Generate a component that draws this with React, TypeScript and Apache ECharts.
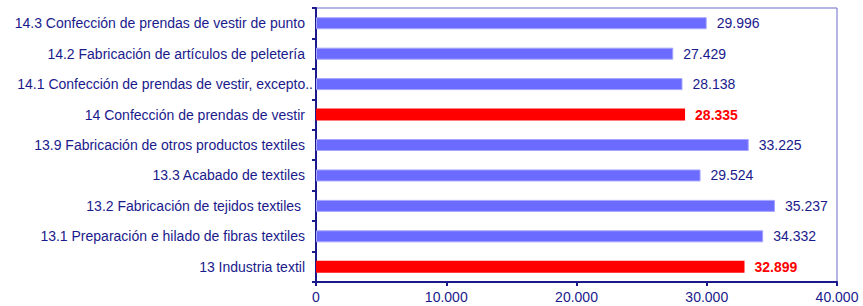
import React, { useEffect, useRef } from "react";
import * as echarts from "echarts";

const categories = [
  "14.3 Confección de prendas de vestir de punto",
  "14.2 Fabricación de artículos de peletería",
  "14.1 Confección de prendas de vestir, excepto..",
  "14 Confección de prendas de vestir",
  "13.9 Fabricación de otros productos textiles",
  "13.3 Acabado de textiles",
  "13.2 Fabricación de tejidos textiles ",
  "13.1 Preparación e hilado de fibras textiles",
  "13 Industria textil",
];
const values = [29996, 27429, 28138, 28335, 33225, 29524, 35237, 34332, 32899];
const highlighted = [false, false, false, true, false, false, false, false, true];
const xTicks = { min: 0, max: 40000, interval: 10000 };

const NAVY = "#1a1a8c";
const FONT = "Liberation Sans";

function fmt(v: number): string {
  return String(Math.round(v)).replace(/\B(?=(\d{3})+(?!\d))/g, ".");
}

export default function App() {
  const ref = useRef<HTMLDivElement>(null);
  useEffect(() => {
    document.body.style.margin = "0";
    if (!ref.current) return;
    const chart = echarts.init(ref.current, undefined, { renderer: "svg" });
    chart.setOption({
      animation: false,
      backgroundColor: "#ffffff",
      grid: {
        left: 316,
        right: 26,
        top: 8,
        bottom: 24,
        show: true,
        borderColor: "#6a6acc",
        borderWidth: 1,
        containLabel: false,
      },
      xAxis: {
        type: "value",
        min: xTicks.min,
        max: xTicks.max,
        interval: xTicks.interval,
        axisLine: { show: true, lineStyle: { color: NAVY, width: 2 } },
        axisTick: { show: true, length: 4, lineStyle: { color: NAVY, width: 2 } },
        splitLine: { show: false },
        axisLabel: {
          color: NAVY,
          fontFamily: FONT,
          fontSize: 14,
          margin: 8,
          formatter: (v: number) => fmt(v),
        },
      },
      yAxis: {
        type: "category",
        inverse: true,
        data: categories.map((c) =>
          c.endsWith("..")
            ? { value: c, textStyle: { padding: [0, -8, 0, 0] } }
            : c
        ),
        axisLine: { show: true, lineStyle: { color: NAVY, width: 2 } },
        axisTick: { show: true, length: 4, interval: 0, lineStyle: { color: NAVY, width: 2 } },
        axisLabel: {
          color: NAVY,
          fontFamily: FONT,
          fontSize: 14,
          margin: 11,
          interval: 0,
        },
      },
      series: [
        {
          type: "bar",
          barWidth: 12,
          data: values.map((v, i) => ({
            value: v,
            itemStyle: highlighted[i]
              ? { color: "#ff0000", borderWidth: 0 }
              : { color: "#6b6bff", borderColor: "#a5a5ff", borderWidth: 1 },
            label: highlighted[i]
              ? { color: "#ff0000", fontWeight: "bold" }
              : { color: NAVY, fontWeight: "normal" },
          })),
          label: {
            show: true,
            position: "right",
            distance: 10,
            fontFamily: FONT,
            fontSize: 14,
            formatter: (p: any) => fmt(p.value),
          },
        },
      ],
    });
    return () => chart.dispose();
  }, []);
  return <div ref={ref} style={{ width: 863, height: 306 }} />;
}
